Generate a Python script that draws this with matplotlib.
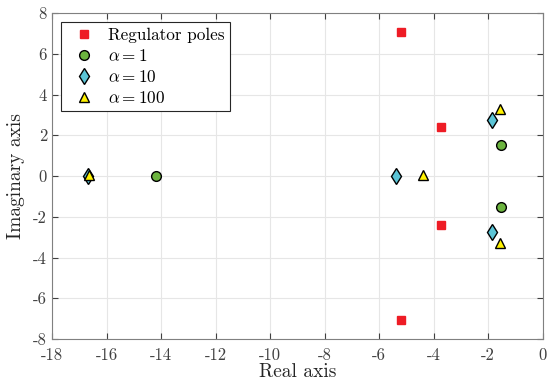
import numpy as np
from matplotlib import pyplot as plt

plt.rcParams['font.family']='cmr10'
plt.rcParams['mathtext.fontset']='cm'
plt.rcParams['axes.unicode_minus']=False
plt.rcParams['axes.formatter.use_mathtext']=False

# poles
reg_re=[-5.2,-5.2,-3.72,-3.72]
reg_im=[7.05,-7.05,2.42,-2.42]
a1_re=[-14.18,-1.55,-1.55]
a1_im=[0.0,1.5,-1.5]
a10_re=[-16.68,-5.4,-1.85,-1.85]
a10_im=[0.0,0.0,2.75,-2.75]
a100_re=[-16.66,-4.4,-1.58,-1.58]
a100_im=[0.05,0.05,3.3,-3.3]

fig=plt.figure(figsize=(5.5,3.89),dpi=100)
ax=fig.add_axes([0.0945,0.1285,0.8925,0.838])

ax.plot(reg_re,reg_im,'s',color='#ee1c25',markersize=6,linestyle='none',
        label='Regulator poles')
ax.plot(a1_re,a1_im,'o',markerfacecolor='#6cb43f',markeredgecolor='k',
        markersize=7,linestyle='none',label=r'$\alpha=1$')
ax.plot(a10_re,a10_im,'d',markerfacecolor='#5bc4d6',markeredgecolor='k',
        markersize=8.5,linestyle='none',label=r'$\alpha=10$')
ax.plot(a100_re,a100_im,'^',markerfacecolor='#fff200',markeredgecolor='k',
        markersize=7.5,linestyle='none',label=r'$\alpha=100$')

ax.set_xlim(-18,0)
ax.set_ylim(-8,8)
ax.set_xticks(np.arange(-18,1,2))
ax.set_yticks(np.arange(-8,9,2))
ax.grid(True,color='#e6e6e6',linewidth=0.8)
ax.set_axisbelow(True)
ax.tick_params(direction='in',top=True,right=True,labelsize=12,
               colors='#404040',length=4)
ax.tick_params(axis='x',pad=6)
for s in ax.spines.values():
    s.set_color('#808080')
ax.set_xlabel('Real axis',fontsize=14,color='#262626',labelpad=0)
ax.set_ylabel('Imaginary axis',fontsize=14,color='#262626',labelpad=6)
leg=ax.legend(loc='upper left',fontsize=12.3,fancybox=False,framealpha=1,
              edgecolor='#262626',borderaxespad=0.55,handletextpad=0.45,
              labelspacing=0.3,borderpad=0.3)
leg.get_frame().set_linewidth(0.8)

plt.savefig('out.png',dpi=100)
